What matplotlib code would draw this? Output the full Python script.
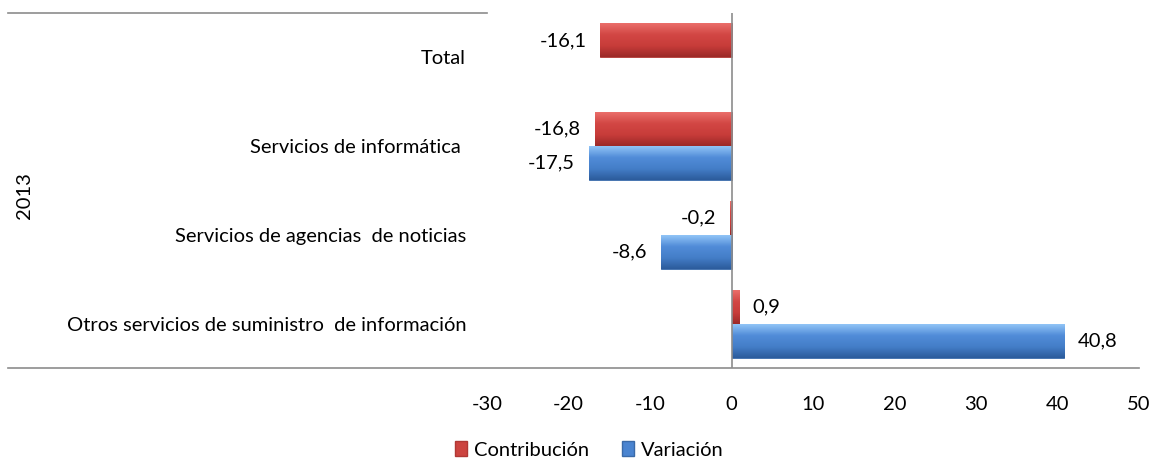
import numpy as np
import matplotlib.pyplot as plt
from matplotlib.colors import LinearSegmentedColormap
from matplotlib.lines import Line2D

plt.rcParams['font.family'] = ['Lato', 'DejaVu Sans']

# data
categories = ['Total', 'Servicios de informática ', 'Servicios de agencias  de noticias',
              'Otros servicios de suministro  de información']
contribucion = [-16.1, -16.8, -0.2, 0.9]
variacion = [np.nan, -17.5, -8.6, 40.8]
group_label = '2013'
xticks = [-30, -20, -10, 0, 10, 20, 30, 40, 50]

red_cmap = LinearSegmentedColormap.from_list('r', ['#ea6e6a', '#d24744', '#c83c3a', '#9c2a28'])
blue_cmap = LinearSegmentedColormap.from_list('b', ['#90c4f6', '#518cd8', '#447ec8', '#2c5c9c'])

fig = plt.figure(figsize=(11.58, 4.61), dpi=100)
ax = fig.add_axes([487 / 1158, 1 - 368 / 461, 652 / 1158, 355 / 461])

y = np.arange(len(categories))
h = 0.383
fs = 14.5


def gradient_bars(bars, cmap):
    grad = np.linspace(0, 1, 64).reshape(-1, 1)
    for b in bars:
        if np.isnan(b.get_width()):
            continue
        x0, y0 = b.get_x(), b.get_y()
        x1, y1 = x0 + b.get_width(), y0 + b.get_height()
        im = ax.imshow(grad, cmap=cmap, aspect='auto', origin='upper',
                       extent=[min(x0, x1), max(x0, x1), max(y0, y1), min(y0, y1)], zorder=2)
        im.set_clip_path(b)


bars_c = ax.barh(y - h / 2, contribucion, height=h, color='#cc4440', edgecolor='#b03835',
                 linewidth=0.6, zorder=2)
bars_v = ax.barh(y + h / 2, variacion, height=h, color='#4a84d0', edgecolor='#3a6aa8',
                 linewidth=0.6, zorder=2)
gradient_bars(bars_c, red_cmap)
gradient_bars(bars_v, blue_cmap)

# value labels
for vals, offs in ((contribucion, -h / 2), (variacion, h / 2)):
    for i, v in enumerate(vals):
        if np.isnan(v):
            continue
        txt = f'{v:.1f}'.replace('.', ',')
        ax.annotate(txt, (v, i + offs), xytext=(-10 if v < 0 else 10, 0),
                    textcoords='offset points', ha='right' if v < 0 else 'left',
                    va='center', fontsize=fs, color='#000000')

ax.set_xlim(-30, 50)
ax.set_ylim(len(categories) - 0.5, -0.5)
ax.set_xticks(xticks)
ax.set_xticklabels([str(t) for t in xticks])
ax.set_yticks(y)
ax.set_yticklabels(categories)
ax.tick_params(axis='x', length=0, pad=20, labelsize=fs)
ax.tick_params(axis='y', length=0, pad=15, labelsize=fs)
for s in ax.spines.values():
    s.set_visible(False)

ax.axvline(0, color='#8c8c8c', lw=1.2, zorder=3)
ax.add_line(Line2D([-0.735, 1.0], [0, 0], transform=ax.transAxes, color='#8c8c8c',
                   lw=1.2, clip_on=False))
ax.add_line(Line2D([-0.735, 0], [1, 1], transform=ax.transAxes, color='#8c8c8c',
                   lw=1.2, clip_on=False))
ax.text(-0.709, 0.485, group_label, transform=ax.transAxes, rotation=90,
        ha='center', va='center', fontsize=fs)

handles = [plt.Rectangle((0, 0), 1, 1, facecolor='#cc4440', edgecolor='#b03835'),
           plt.Rectangle((0, 0), 1, 1, facecolor='#4a84d0', edgecolor='#3a6aa8')]
fig.legend(handles, ['Contribución', 'Variación'], loc='center', ncol=2,
           bbox_to_anchor=(0.509, 0.024), frameon=False, fontsize=fs,
           handlelength=0.6, handleheight=0.8, handletextpad=0.35, columnspacing=1.6,
           borderpad=0)

fig.savefig('out.png', dpi=100)
